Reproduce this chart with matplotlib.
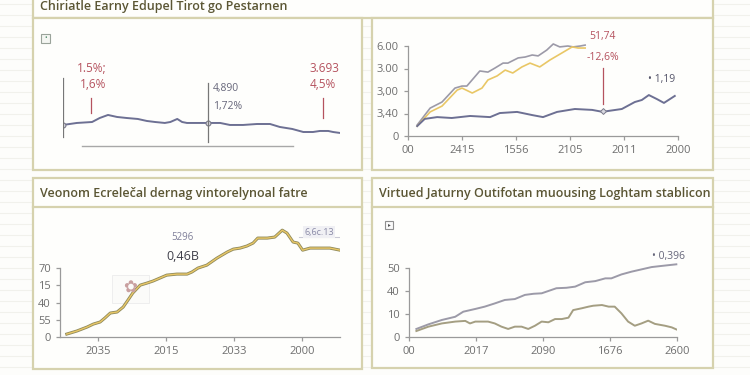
import matplotlib
matplotlib.use("Agg")
import matplotlib.pyplot as plt
from matplotlib.patches import Rectangle
from matplotlib.lines import Line2D

plt.rcParams["font.family"] = ["Open Sans", "DejaVu Sans"]

# ---- data -------------------------------------------------------------
# top left: flat index line
tl_x = [0, 2.0, 4.2, 5.3, 6.5, 7.8, 9.2, 10.8, 12.1, 13.3, 14.7, 15.5, 16.5, 17.2, 17.9,
        19.4, 20.9, 22.7, 24.1, 26.0, 28.0, 29.9, 31.3, 33.1, 34.7, 36.1, 37.1, 38.3, 39.0, 40]
tl_y = [1.88, 2.13, 2.25, 2.75, 3.13, 2.88, 2.75, 2.63, 2.38, 2.25, 2.13, 2.25, 2.63, 2.25, 2.13,
        2.13, 2.13, 2.13, 1.88, 1.88, 2.0, 2.0, 1.63, 1.38, 1.0, 1.0, 1.13, 1.13, 1.0, 0.88]

# top right: three series
tr_xticklabels = ["00", "2415", "1556", "2105", "2011", "2000"]
tr_yticklabels = ["0", "3,40", "3,00", "3.00", "6.00"]
tr_gray_x = [0.17, 0.41, 0.63, 0.87, 1.0, 1.09, 1.33, 1.48, 1.61, 1.76, 1.85, 2.04, 2.17, 2.30,
             2.41, 2.57, 2.69, 2.81, 2.96, 3.06, 3.19, 3.28]
tr_gray_y = [0.49, 1.24, 1.51, 2.13, 2.22, 2.22, 2.89, 2.84, 3.02, 3.24, 3.24, 3.47, 3.51, 3.60,
             3.56, 3.82, 4.09, 3.96, 4.0, 3.96, 4.0, 4.04]
tr_yel_x = [0.17, 0.41, 0.63, 0.91, 1.0, 1.19, 1.37, 1.48, 1.65, 1.8, 1.94, 2.11, 2.26, 2.44,
            2.63, 2.85, 3.04, 3.15, 3.28]
tr_yel_y = [0.44, 1.07, 1.33, 2.04, 2.13, 1.91, 2.13, 2.49, 2.67, 2.93, 2.8, 3.07, 3.24, 3.07,
            3.38, 3.69, 3.96, 3.91, 3.91]
tr_blue_x = [0.17, 0.31, 0.54, 0.81, 1.15, 1.52, 1.70, 2.02, 2.30, 2.5, 2.76, 3.09, 3.41, 3.61,
             3.70, 3.96, 4.20, 4.33, 4.46, 4.61, 4.74, 4.94]
tr_blue_y = [0.44, 0.76, 0.84, 0.8, 0.89, 0.84, 1.02, 1.07, 0.93, 0.84, 1.07, 1.2, 1.16, 1.07,
             1.11, 1.2, 1.51, 1.6, 1.82, 1.64, 1.47, 1.78]

# bottom left: cumulative curve
bl_xticklabels = ["2035", "2015", "2033", "2000"]
bl_yticklabels = ["0", "55", "40", "15", "70"]
bl_x = [0.54, 0.69, 0.84, 0.93, 1.03, 1.10, 1.18, 1.28, 1.37, 1.44, 1.51, 1.62, 1.72, 1.81, 1.91,
        2.01, 2.16, 2.31, 2.38, 2.47, 2.60, 2.75, 2.90, 2.99, 3.09, 3.19, 3.28, 3.35, 3.49, 3.60,
        3.71, 3.78, 3.87, 3.94, 4.01, 4.12, 4.26, 4.41, 4.56]
bl_y = [0.17, 0.35, 0.58, 0.75, 0.87, 1.10, 1.39, 1.45, 1.74, 2.14, 2.55, 3.01, 3.13, 3.25, 3.42,
        3.59, 3.65, 3.65, 3.77, 4.0, 4.17, 4.58, 4.93, 5.10, 5.16, 5.28, 5.45, 5.74, 5.74, 5.80,
        6.20, 6.03, 5.51, 5.45, 5.04, 5.16, 5.16, 5.16, 5.04]

# bottom right: two series
br_xticklabels = ["00", "2017", "2090", "1676", "2600"]
br_yticklabels = ["0", "10", "40", "50"]
br_up_x = [0.11, 0.29, 0.49, 0.69, 0.81, 0.99, 1.13, 1.28, 1.43, 1.58, 1.73, 1.86, 1.98, 2.08,
           2.20, 2.35, 2.48, 2.63, 2.78, 2.93, 3.02, 3.17, 3.32, 3.47, 3.62, 3.77, 3.99]
br_up_y = [0.35, 0.55, 0.74, 0.88, 1.10, 1.22, 1.32, 1.46, 1.61, 1.65, 1.83, 1.88, 1.90, 2.0,
           2.12, 2.14, 2.19, 2.38, 2.43, 2.55, 2.55, 2.72, 2.84, 2.94, 3.04, 3.09, 3.16]
br_lo_x = [0.11, 0.29, 0.49, 0.69, 0.84, 0.91, 0.99, 1.18, 1.28, 1.38, 1.48, 1.58, 1.68, 1.78,
           1.88, 1.98, 2.08, 2.18, 2.28, 2.38, 2.45, 2.58, 2.68, 2.75, 2.88, 2.98, 3.07, 3.17,
           3.27, 3.37, 3.47, 3.57, 3.67, 3.82, 3.92, 3.99]
br_lo_y = [0.26, 0.45, 0.59, 0.67, 0.70, 0.59, 0.67, 0.67, 0.59, 0.45, 0.35, 0.45, 0.45, 0.35,
           0.49, 0.67, 0.64, 0.78, 0.78, 0.84, 1.17, 1.25, 1.32, 1.36, 1.39, 1.32, 1.32, 1.03,
           0.67, 0.49, 0.59, 0.71, 0.57, 0.49, 0.42, 0.33]

titles = ["Chiriatle Earny Edupel Tirot go Pestarnen",
          "Veonom Ecrelečal dernag vintorelynoal fatre",
          "Virtued Jaturny Outifotan muousing Loghtam stablicon"]

# ---- styling ------------------------------------------------------------
W, H = 750, 375
BORDER = "#d6d2ae"
TITLE_C = "#5b5634"
TICK_C = "#6e6e6e"
SPINE_C = "#9a9a9a"
RED = "#b5525e"
GRAY_L = "#9c9aa8"
BLUE_L = "#6d7093"
YEL_L = "#e9c766"
OLIVE_L = "#a49e82"

fig = plt.figure(figsize=(W / 100, H / 100), dpi=100)
fig.patch.set_facecolor("#fdfdfb")


def fx(px):
    return px / W


def fy(py):
    return 1 - py / H


def box(x0, y0, x1, y1, fc="#fefefc"):
    fig.patches.append(Rectangle((fx(x0), fy(y1)), fx(x1 - x0), (y1 - y0) / H,
                                 transform=fig.transFigure, fc=fc, ec=BORDER, lw=1.6,
                                 zorder=-5))


def hline(x0, x1, y, c=BORDER, lw=1.6, z=-4):
    fig.lines.append(Line2D([fx(x0), fx(x1)], [fy(y), fy(y)], transform=fig.transFigure,
                            color=c, lw=lw, zorder=z))


# ruled-paper background
for py in range(4, H, 11):
    hline(0, W, py, c="#f1f1ec", lw=0.8, z=-10)

# panel frames
box(33, -10, 713, 18)
box(33, 18, 362, 170)
box(372, 18, 713, 170)
box(33, 178, 362, 369)
box(372, 178, 713, 368)
hline(33, 362, 207)
hline(372, 713, 207)

fig.text(fx(40), fy(10), titles[0], fontsize=9, fontweight="semibold", color=TITLE_C, va="baseline")
fig.text(fx(40), fy(197), titles[1], fontsize=9, fontweight="semibold", color=TITLE_C, va="baseline")
fig.text(fx(379), fy(197), titles[2], fontsize=9, fontweight="semibold", color=TITLE_C, va="baseline")

# little icon boxes
fig.patches.append(Rectangle((fx(41), fy(43)), fx(9), 9 / H, transform=fig.transFigure,
                             fc="#f4f6f2", ec="#9aa39a", lw=0.8))
fig.text(fx(45.5), fy(38.5), "•", fontsize=5, color="#4f8a6a", ha="center", va="center")
fig.patches.append(Rectangle((fx(385), fy(229)), fx(8), 8 / H, transform=fig.transFigure,
                             fc="#fafafa", ec="#8f8f8f", lw=0.8))
fig.text(fx(389), fy(225), "▸", fontsize=4, color="#555555", ha="center", va="center")


def style_axis(ax):
    ax.set_facecolor("none")
    for s in ["top", "right"]:
        ax.spines[s].set_visible(False)
    for s in ["left", "bottom"]:
        ax.spines[s].set_color(SPINE_C)
        ax.spines[s].set_linewidth(0.9)
    ax.tick_params(colors=SPINE_C, labelcolor=TICK_C, labelsize=8, length=3, width=0.9)


# ---- top left -------------------------------------------------------------
ax1 = fig.add_axes([fx(63), fy(148), fx(277), 88 / H])
ax1.set_xlim(0, 40)
ax1.set_ylim(-1, 10)
ax1.axis("off")
ax1.plot(tl_x, tl_y, color=BLUE_L, lw=1.4)
ax1.plot([0, 20.9], [1.88, 2.13], "o", ms=3.5, mfc="#dcdce4", mec="#7a7a8a", mew=0.8)
ax1.plot([0, 0], [0.38, 7.75], color="#777777", lw=0.9)
ax1.plot([20.9, 20.9], [-0.25, 7.13], color="#777777", lw=0.9)
ax1.plot([4.0, 4.0], [3.38, 5.25], color=RED, lw=0.9)
ax1.plot([37.5, 37.5], [2.75, 5.25], color=RED, lw=0.9)
ax1.plot([2.7, 33.2], [-0.75, -0.75], color="#a8a8a8", lw=1.0)
ax1.text(2.0, 9.0, "1.5%;", color=RED, fontsize=8.5, va="center")
ax1.text(2.45, 6.9, "1,6%", color=RED, fontsize=8.5, va="center")
ax1.text(21.7, 6.4, "4,890", color="#66667a", fontsize=7.5, va="center")
ax1.text(21.7, 4.25, "1,72%", color="#66667a", fontsize=7.5, va="center")
ax1.text(35.6, 9.0, "3.693", color=RED, fontsize=8.5, va="center")
ax1.text(35.6, 7.0, "4,5%", color=RED, fontsize=8.5, va="center")

# ---- top right ------------------------------------------------------------
ax2 = fig.add_axes([fx(408), fy(136), fx(270), 90 / H])
style_axis(ax2)
ax2.set_xlim(0, 5)
ax2.set_ylim(0, 4)
ax2.set_xticks(range(6))
ax2.set_xticklabels(tr_xticklabels)
ax2.set_yticks(range(5))
ax2.set_yticklabels(tr_yticklabels)
ax2.plot(tr_gray_x, tr_gray_y, color=GRAY_L, lw=1.2, clip_on=False)
ax2.plot(tr_yel_x, tr_yel_y, color=YEL_L, lw=1.2, clip_on=False)
ax2.plot(tr_blue_x, tr_blue_y, color=BLUE_L, lw=1.4, clip_on=False)
ax2.plot([3.61, 3.61], [1.42, 3.02], color=RED, lw=0.9)
ax2.plot([3.61], [1.11], "D", ms=3, mfc="#d8d8e0", mec="#7a7a8a", mew=0.7)
ax2.text(3.61, 4.4, "51,74", color=RED, fontsize=7.5, ha="center", va="center", clip_on=False)
ax2.text(3.61, 3.51, "-12,6%", color=RED, fontsize=7.5, ha="center", va="center")
ax2.text(4.45, 2.49, "• 1,19", color="#55556a", fontsize=7.5, va="center")

# ---- bottom left ----------------------------------------------------------
ax3 = fig.add_axes([fx(60), fy(337), fx(280), (337 - 225) / H])
style_axis(ax3)
ax3.set_xlim(0.44, 4.56)
ax3.set_ylim(0, 6.5)
ax3.spines["left"].set_bounds(0, 4)
ax3.set_xticks([1, 2, 3, 4])
ax3.set_xticklabels(bl_xticklabels)
ax3.set_yticks(range(5))
ax3.set_yticklabels(bl_yticklabels)
ax3.plot(bl_x, bl_y, color="#8f8a5c", lw=2.2)
ax3.plot(bl_x, bl_y, color=YEL_L, lw=1.0)
ax3.add_patch(Rectangle((1.2, 2.0), 0.55, 1.6, fc="#fbfbf9", ec="#ececec", lw=0.6))
ax3.text(1.47, 2.8, "✿", color="#c9a0a0", fontsize=12, ha="center", va="center")
ax3.text(2.24, 5.8, "5296", color="#7f7f99", fontsize=7, ha="center", va="center")
ax3.text(2.24, 4.7, "0,46B", color="#3f3f4a", fontsize=9, ha="center", va="center")
ax3.text(4.25, 6.09, "6,6c.13", color="#8a8aa6", fontsize=6.5, ha="center", va="center",
         bbox=dict(fc="#f0f0f4", ec="none", pad=1))
ax3.plot([3.95, 4.55], [5.78, 5.78], color="#c8c8d4", lw=0.8)

# ---- bottom right ---------------------------------------------------------
ax4 = fig.add_axes([fx(409), fy(337), fx(268), 69 / H])
style_axis(ax4)
ax4.set_xlim(0, 4)
ax4.set_ylim(0, 3)
ax4.set_xticks(range(5))
ax4.set_xticklabels(br_xticklabels)
ax4.set_yticks(range(4))
ax4.set_yticklabels(br_yticklabels)
ax4.plot(br_up_x, br_up_y, color=GRAY_L, lw=1.4, clip_on=False)
ax4.plot(br_lo_x, br_lo_y, color=OLIVE_L, lw=1.4)
ax4.text(3.62, 3.48, "• 0,396", color="#66667a", fontsize=7.5, va="center", clip_on=False)

fig.savefig("out.png", dpi=100)
